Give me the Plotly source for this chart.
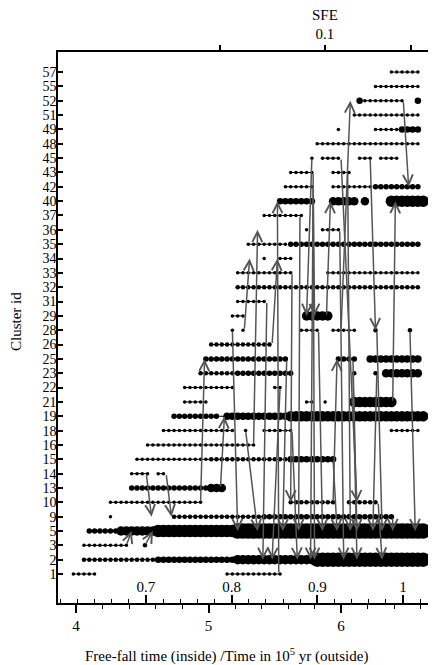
import numpy as np
import plotly.graph_objects as go

# Cluster ids shown on the y axis (bottom to top)
cluster_ids = [1, 2, 3, 5, 9, 10, 13, 14, 15, 16, 18, 19, 21, 22, 23, 25, 26, 28, 29,
               31, 32, 33, 34, 35, 36, 37, 40, 42, 43, 45, 48, 49, 51, 52, 55, 57]

# snapshot cadence (time in 1e5 yr)
snap_start = 3.98
snap_end = 6.62
snap_step = 0.04

# Runs of snapshots per cluster: (t_start, t_end, marker size ~ mass)
runs = {
    57: [(6.36, 6.57, 3)],
    55: [(6.26, 6.57, 3)],
    52: [(6.13, 6.13, 6), (6.17, 6.47, 3), (6.57, 6.57, 6)],
    51: [(6.08, 6.57, 3)],
    49: [(5.98, 5.98, 3), (6.26, 6.45, 3), (6.47, 6.57, 6)],
    48: [(5.83, 6.57, 3)],
    45: [(5.78, 5.78, 3), (5.86, 6.00, 3), (6.13, 6.22, 3), (6.31, 6.42, 3)],
    43: [(5.61, 5.79, 3), (5.92, 6.05, 3)],
    42: [(5.56, 5.79, 3), (5.92, 6.24, 3), (6.26, 6.57, 5)],
    40: [(5.52, 5.79, 6), (5.92, 6.11, 8), (6.17, 6.17, 8), (6.39, 6.61, 11)],
    37: [(5.41, 5.69, 3)],
    36: [(5.73, 5.73, 3), (5.86, 5.99, 3)],
    35: [(5.31, 5.60, 3), (5.62, 6.58, 5)],
    34: [(5.43, 5.43, 3), (5.52, 5.64, 3)],
    33: [(5.22, 5.63, 3), (5.88, 6.57, 3)],
    32: [(5.22, 6.58, 4)],
    31: [(5.22, 5.44, 3)],
    29: [(5.16, 5.26, 3), (5.74, 5.89, 9)],
    28: [(5.18, 5.18, 3), (5.27, 5.27, 3), (5.68, 5.83, 3), (5.93, 6.09, 3),
         (6.27, 6.27, 4), (6.52, 6.52, 4)],
    26: [(5.03, 5.48, 4)],
    25: [(4.99, 5.59, 5), (5.97, 6.09, 5), (6.22, 6.58, 7)],
    23: [(4.92, 5.18, 4), (5.22, 5.64, 5), (6.09, 6.09, 4), (6.27, 6.27, 4), (6.35, 6.58, 8)],
    22: [(4.82, 5.18, 3), (5.49, 5.54, 3)],
    21: [(4.82, 4.99, 3), (5.73, 5.78, 3), (5.88, 5.88, 3), (6.10, 6.39, 10)],
    19: [(4.72, 5.08, 5), (5.12, 5.58, 7), (5.62, 6.61, 10)],
    18: [(4.67, 5.17, 3), (5.28, 5.28, 3), (5.41, 5.63, 3), (6.36, 6.57, 3)],
    16: [(4.52, 5.34, 3)],
    15: [(4.47, 4.99, 3), (5.03, 5.59, 4), (5.63, 5.94, 6)],
    14: [(4.42, 4.53, 3), (4.62, 4.68, 3)],
    13: [(4.42, 4.99, 5), (5.03, 5.09, 8)],
    10: [(4.26, 4.94, 3), (5.62, 5.94, 4), (6.07, 6.28, 4)],
    9: [(4.27, 4.27, 3), (4.73, 5.39, 4), (5.43, 6.39, 5)],
    5: [(4.09, 4.29, 5), (4.33, 4.57, 9), (4.61, 5.17, 12), (5.21, 6.62, 15)],
    3: [(4.04, 4.38, 3), (4.52, 4.52, 4)],
    2: [(4.04, 4.57, 4), (4.61, 5.17, 6), (5.21, 5.77, 9), (5.81, 6.62, 14)],
    1: [(3.98, 4.14, 3), (5.12, 5.53, 3)],
}

# Mergers: (from cluster, time, into cluster, time)
mergers = [
    (3, 4.38, 5, 4.42), (3, 4.52, 5, 4.58), (14, 4.53, 9, 4.57), (14, 4.68, 9, 4.72),
    (10, 4.94, 25, 4.97), (13, 5.09, 19, 5.12), (28, 5.18, 5, 5.22), (28, 5.27, 34, 5.31),
    (16, 5.34, 36, 5.37), (18, 5.28, 5, 5.37), (31, 5.44, 2, 5.41), (26, 5.48, 34, 5.52),
    (22, 5.54, 2, 5.48), (1, 5.53, 40, 5.52), (25, 5.59, 5, 5.56), (18, 5.63, 2, 5.67),
    (33, 5.63, 10, 5.62), (43, 5.79, 2, 5.77), (45, 5.78, 29, 5.74), (28, 5.83, 5, 5.86),
    (15, 5.94, 5, 5.97), (29, 5.89, 40, 5.92), (36, 5.99, 2, 6.02), (43, 6.05, 5, 6.07),
    (25, 6.09, 5, 6.12), (23, 6.09, 2, 6.12), (28, 6.00, 52, 6.07), (45, 6.22, 28, 6.26),
    (28, 6.27, 5, 6.31), (23, 6.27, 5, 6.24), (10, 6.28, 2, 6.31), (9, 6.39, 5, 6.39),
    (21, 6.39, 40, 6.41), (52, 6.47, 42, 6.51), (28, 6.52, 5, 6.56), (10, 5.94, 25, 5.97),
    (45, 6.00, 10, 6.12), (40, 5.79, 2, 5.80), (37, 5.69, 5, 5.68), (42, 5.79, 29, 5.80),
]

# axes ticks
time_ticks = [4, 5, 6]
ff_ticks = [0.7, 0.8, 0.9, 1.0]
ff_labels = ["0.7", "0.8", "0.9", "1"]
sfe_major = [0.1]
sfe_minor = [0.08, 0.12]

ypos = {cid: i for i, cid in enumerate(cluster_ids)}
snapshots = np.round(np.arange(snap_start, snap_end + 1e-9, snap_step), 3)

FONT = "Liberation Serif"
FS = 15
fig = go.Figure()

for cid, segs in runs.items():
    for (t0, t1, s) in segs:
        ts = snapshots[(snapshots >= t0 - 0.019) & (snapshots <= t1 + 0.019)]
        if len(ts) == 0:
            ts = np.array([t0])
        fig.add_trace(go.Scatter(
            x=ts, y=[ypos[cid]] * len(ts),
            mode="lines+markers",
            line=dict(color="black", width=1),
            marker=dict(color="black", size=s + 0.5, line=dict(width=0)),
            showlegend=False, hoverinfo="skip"))

# join consecutive runs of the same cluster where contiguous
for cid, segs in runs.items():
    for a, b in zip(segs[:-1], segs[1:]):
        if b[0] - a[1] < 0.05:
            fig.add_trace(go.Scatter(
                x=[a[1], b[0]], y=[ypos[cid]] * 2, mode="lines",
                line=dict(color="black", width=1),
                showlegend=False, hoverinfo="skip"))

# dummy traces to activate the secondary axes
fig.add_trace(go.Scatter(x=[0.8], y=[0], xaxis="x2", mode="markers",
                         marker=dict(opacity=0), showlegend=False, hoverinfo="skip"))
fig.add_trace(go.Scatter(x=[0.1], y=[0], xaxis="x3", mode="markers",
                         marker=dict(opacity=0), showlegend=False, hoverinfo="skip"))

for (fa, ta, fb, tb) in mergers:
    fig.add_annotation(
        x=tb, y=ypos[fb], ax=ta, ay=ypos[fa],
        xref="x", yref="y", axref="x", ayref="y",
        text="", showarrow=True, arrowhead=5, arrowsize=1.3,
        arrowwidth=1.5, arrowcolor="#555555", standoff=0, startstandoff=0)

# axis titles
fig.add_annotation(text="Cluster id", xref="paper", yref="paper", x=-0.112, y=0.51,
                   xanchor="center", yanchor="middle", textangle=-90, showarrow=False,
                   font=dict(size=FS, family=FONT, color="black"))
fig.add_annotation(text="SFE", xref="paper", yref="paper", x=0.712, y=1.0, yshift=37,
                   xanchor="center", yanchor="middle", showarrow=False,
                   font=dict(size=FS, family=FONT, color="black"))
fig.add_annotation(text="Free-fall time (inside) /Time in 10<sup>5</sup> yr (outside)",
                   xref="paper", yref="paper", x=0.448, y=0.0, yshift=-52,
                   xanchor="center", yanchor="middle", showarrow=False,
                   font=dict(size=FS, family=FONT, color="black"))

# the page body adds an 8 px offset, so the figure is 8 px smaller than the window
fig.update_layout(
    width=428, height=657,
    margin=dict(l=50, r=3, t=44, b=62),
    plot_bgcolor="white", paper_bgcolor="white",
    font=dict(family=FONT, size=FS, color="black"),
    xaxis=dict(
        automargin=False,
        range=[3.864, 6.694], tickvals=time_ticks, ticks="outside", ticklen=8,
        tickwidth=1.5, tickcolor="black", showline=True, linecolor="black",
        linewidth=1.5, showgrid=False, zeroline=False,
        minor=dict(dtick=0.2, tick0=4, ticks="outside", ticklen=4, tickcolor="black",
                   tickwidth=1.2, showgrid=False),
        tickfont=dict(size=FS, family=FONT, color="black")),
    xaxis2=dict(
        automargin=False,
        overlaying="x", side="bottom", anchor="y", range=[0.5973, 1.035],
        tickvals=ff_ticks, ticktext=ff_labels, ticks="inside", ticklen=8,
        tickwidth=1.5, tickcolor="black", ticklabelposition="inside",
        showline=False, showgrid=False, zeroline=False,
        minor=dict(dtick=0.02, tick0=0.7, ticks="inside", ticklen=4, tickcolor="black",
                   tickwidth=1.2, showgrid=False),
        tickfont=dict(size=FS, family=FONT, color="black")),
    xaxis3=dict(
        automargin=False,
        overlaying="x", side="top", anchor="y", type="log", range=[-1.2472, -0.9],
        tickmode="array", tickvals=sfe_major, ticktext=["0.1"], ticks="outside", ticklen=5,
        tickwidth=1.5, tickcolor="black", showline=True, linecolor="black",
        linewidth=1.5, showgrid=False, zeroline=False,
        minor=dict(tickmode="array", tickvals=sfe_minor, ticks="outside", ticklen=5,
                   tickwidth=1.5, tickcolor="black", showgrid=False),
        tickfont=dict(size=FS, family=FONT, color="black")),
    yaxis=dict(
        automargin=False,
        range=[-2.02, 36.4], tickvals=list(range(len(cluster_ids))),
        ticktext=[str(c) for c in cluster_ids], ticks="inside", ticklen=5,
        ticklabelstandoff=-3,
        tickwidth=1.5, tickcolor="black", showline=True, mirror=True,
        linecolor="black", linewidth=1.5, showgrid=False, zeroline=False,
        tickfont=dict(size=14, family=FONT, color="black")),
)

fig.write_html("out.html")
